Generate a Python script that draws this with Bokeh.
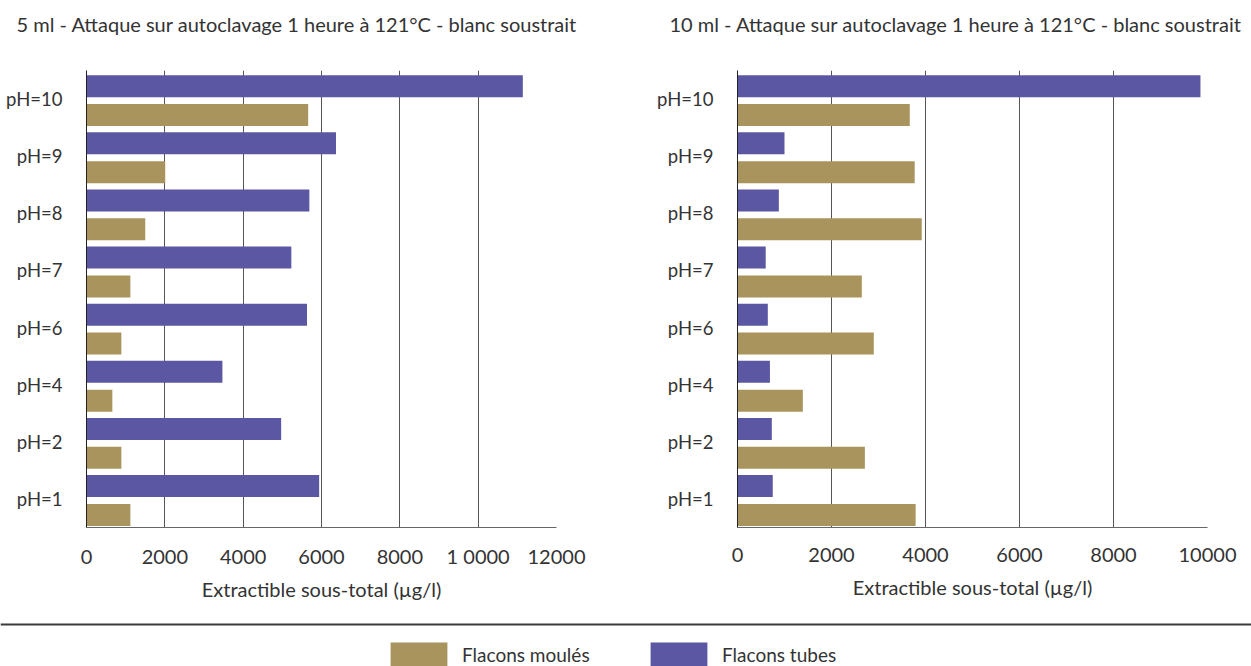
from bokeh.plotting import figure
from bokeh.models import (FactorRange, Range1d, FixedTicker, Span, Legend,
                          LegendItem, ColumnDataSource)
from bokeh.transform import dodge
from bokeh.layouts import column, row
from bokeh.embed import file_html
from bokeh.resources import INLINE

# ---------------- data ----------------
categories = ["pH=1", "pH=2", "pH=4", "pH=6", "pH=7", "pH=8", "pH=9", "pH=10"]

tubes_5ml = [5940, 4970, 3470, 5630, 5230, 5690, 6370, 11140]
moules_5ml = [1120, 890, 660, 890, 1120, 1500, 2010, 5660]

tubes_10ml = [750, 730, 690, 645, 600, 880, 1000, 9850]
moules_10ml = [3790, 2710, 1390, 2900, 2645, 3920, 3770, 3665]

ticks_5ml = [0, 2000, 4000, 6000, 8000, 10000, 12000]
tick_labels_5ml = ["0", "2000", "4000", "6000", "8000", "1 0000", "12000"]
ticks_10ml = [0, 2000, 4000, 6000, 8000, 10000]
tick_labels_10ml = ["0", "2000", "4000", "6000", "8000", "10000"]

series_names = ["Flacons moulés", "Flacons tubes"]
title_5ml = "5 ml  - Attaque sur autoclavage 1 heure à 121°C - blanc soustrait"
title_10ml = "10 ml - Attaque sur autoclavage 1 heure à 121°C - blanc soustrait"
x_label = "Extractible sous-total (µg/l)"

# ---------------- style ----------------
FONT = "Lato"
TEXT = "#333333"
PURPLE = "#5b57a3"
GOLD = "#a8945c"
GRID = "#555555"


def make_panel(title, tubes, moules, ticks, labels, mbl, mbr, title_offset,
               tick_standoff, label_standoff):
    p = figure(y_range=FactorRange(*categories),
               x_range=Range1d(0, ticks[-1]),
               frame_width=470, frame_height=457,
               min_border_left=mbl, min_border_right=mbr,
               min_border_top=70, min_border_bottom=83,
               output_backend="svg", toolbar_location=None,
               title=title + "\n")
    src = ColumnDataSource(dict(cat=categories, tubes=tubes, moules=moules))
    p.hbar(y=dodge("cat", 0.225, range=p.y_range), left=0, right="tubes",
           height=0.385, source=src, fill_color=PURPLE, line_color=None)
    p.hbar(y=dodge("cat", -0.28, range=p.y_range), left=0, right="moules",
           height=0.385, source=src, fill_color=GOLD, line_color=None)

    p.outline_line_color = None
    p.ygrid.grid_line_color = None
    p.xgrid.ticker = FixedTicker(ticks=ticks)
    p.xgrid.grid_line_color = GRID
    p.xgrid.grid_line_width = 1

    xa = p.xaxis[0]
    xa.ticker = FixedTicker(ticks=ticks)
    xa.major_label_overrides = {t: l for t, l in zip(ticks, labels)}
    xa.axis_line_color = "#666666"
    xa.major_tick_line_color = None
    xa.major_tick_out = 0
    xa.major_tick_in = 0
    xa.minor_tick_line_color = None
    xa.minor_tick_out = 0
    xa.major_label_standoff = tick_standoff
    xa.major_label_text_font = FONT
    xa.major_label_text_font_size = "20px"
    xa.major_label_text_color = TEXT
    xa.axis_label = x_label
    xa.axis_label_standoff = label_standoff
    xa.axis_label_text_font = FONT
    xa.axis_label_text_font_size = "20px"
    xa.axis_label_text_font_style = "normal"
    xa.axis_label_text_color = TEXT

    ya = p.yaxis[0]
    ya.axis_line_color = "#222222"
    ya.major_tick_line_color = None
    ya.major_tick_out = 0
    ya.major_tick_in = 0
    ya.minor_tick_line_color = None
    ya.major_label_standoff = 24
    ya.major_label_text_font = FONT
    ya.major_label_text_font_size = "18.5px"
    ya.major_label_text_color = TEXT

    p.title.align = "left"
    p.title.vertical_align = "top"
    p.title.offset = title_offset
    p.title.standoff = 18
    p.title.text_font = FONT
    p.title.text_font_size = "20px"
    p.title.text_font_style = "normal"
    p.title.text_color = TEXT
    return p


p1 = make_panel(title_5ml, tubes_5ml, moules_5ml, ticks_5ml, tick_labels_5ml,
                86, 64, -70, 16, 6)
p2 = make_panel(title_10ml, tubes_10ml, moules_10ml, ticks_10ml,
                tick_labels_10ml, 117, 44, -68, 20, 10)

# ---------------- legend strip ----------------
leg = figure(width=1251, height=56, x_range=Range1d(0, 1), y_range=Range1d(0, 56),
             min_border=0, toolbar_location=None, output_backend="svg",
             x_axis_type=None, y_axis_type=None)
leg.outline_line_color = None
r_gold = leg.hbar(y=[0], left=[0], right=[0], height=0,
                  fill_color=GOLD, line_color=None)
r_purple = leg.hbar(y=[0], left=[0], right=[0], height=0,
                    fill_color=PURPLE, line_color=None)
leg.add_layout(Span(location=42, dimension="width", line_color="#3a3a3a",
                    line_width=2))
legend = Legend(items=[LegendItem(label=series_names[0], renderers=[r_gold]),
                       LegendItem(label=series_names[1], renderers=[r_purple])],
                orientation="horizontal", location=(383, -3),
                glyph_width=71, glyph_height=30, label_height=30,
                label_standoff=8, label_width=181, spacing=0,
                padding=0, margin=0, border_line_color=None,
                background_fill_alpha=0,
                label_text_font=FONT, label_text_font_size="19px",
                label_text_color=TEXT)
leg.add_layout(legend)

layout = column(row(p1, p2), leg)

open("out.html", "w").write(file_html(layout, INLINE))
